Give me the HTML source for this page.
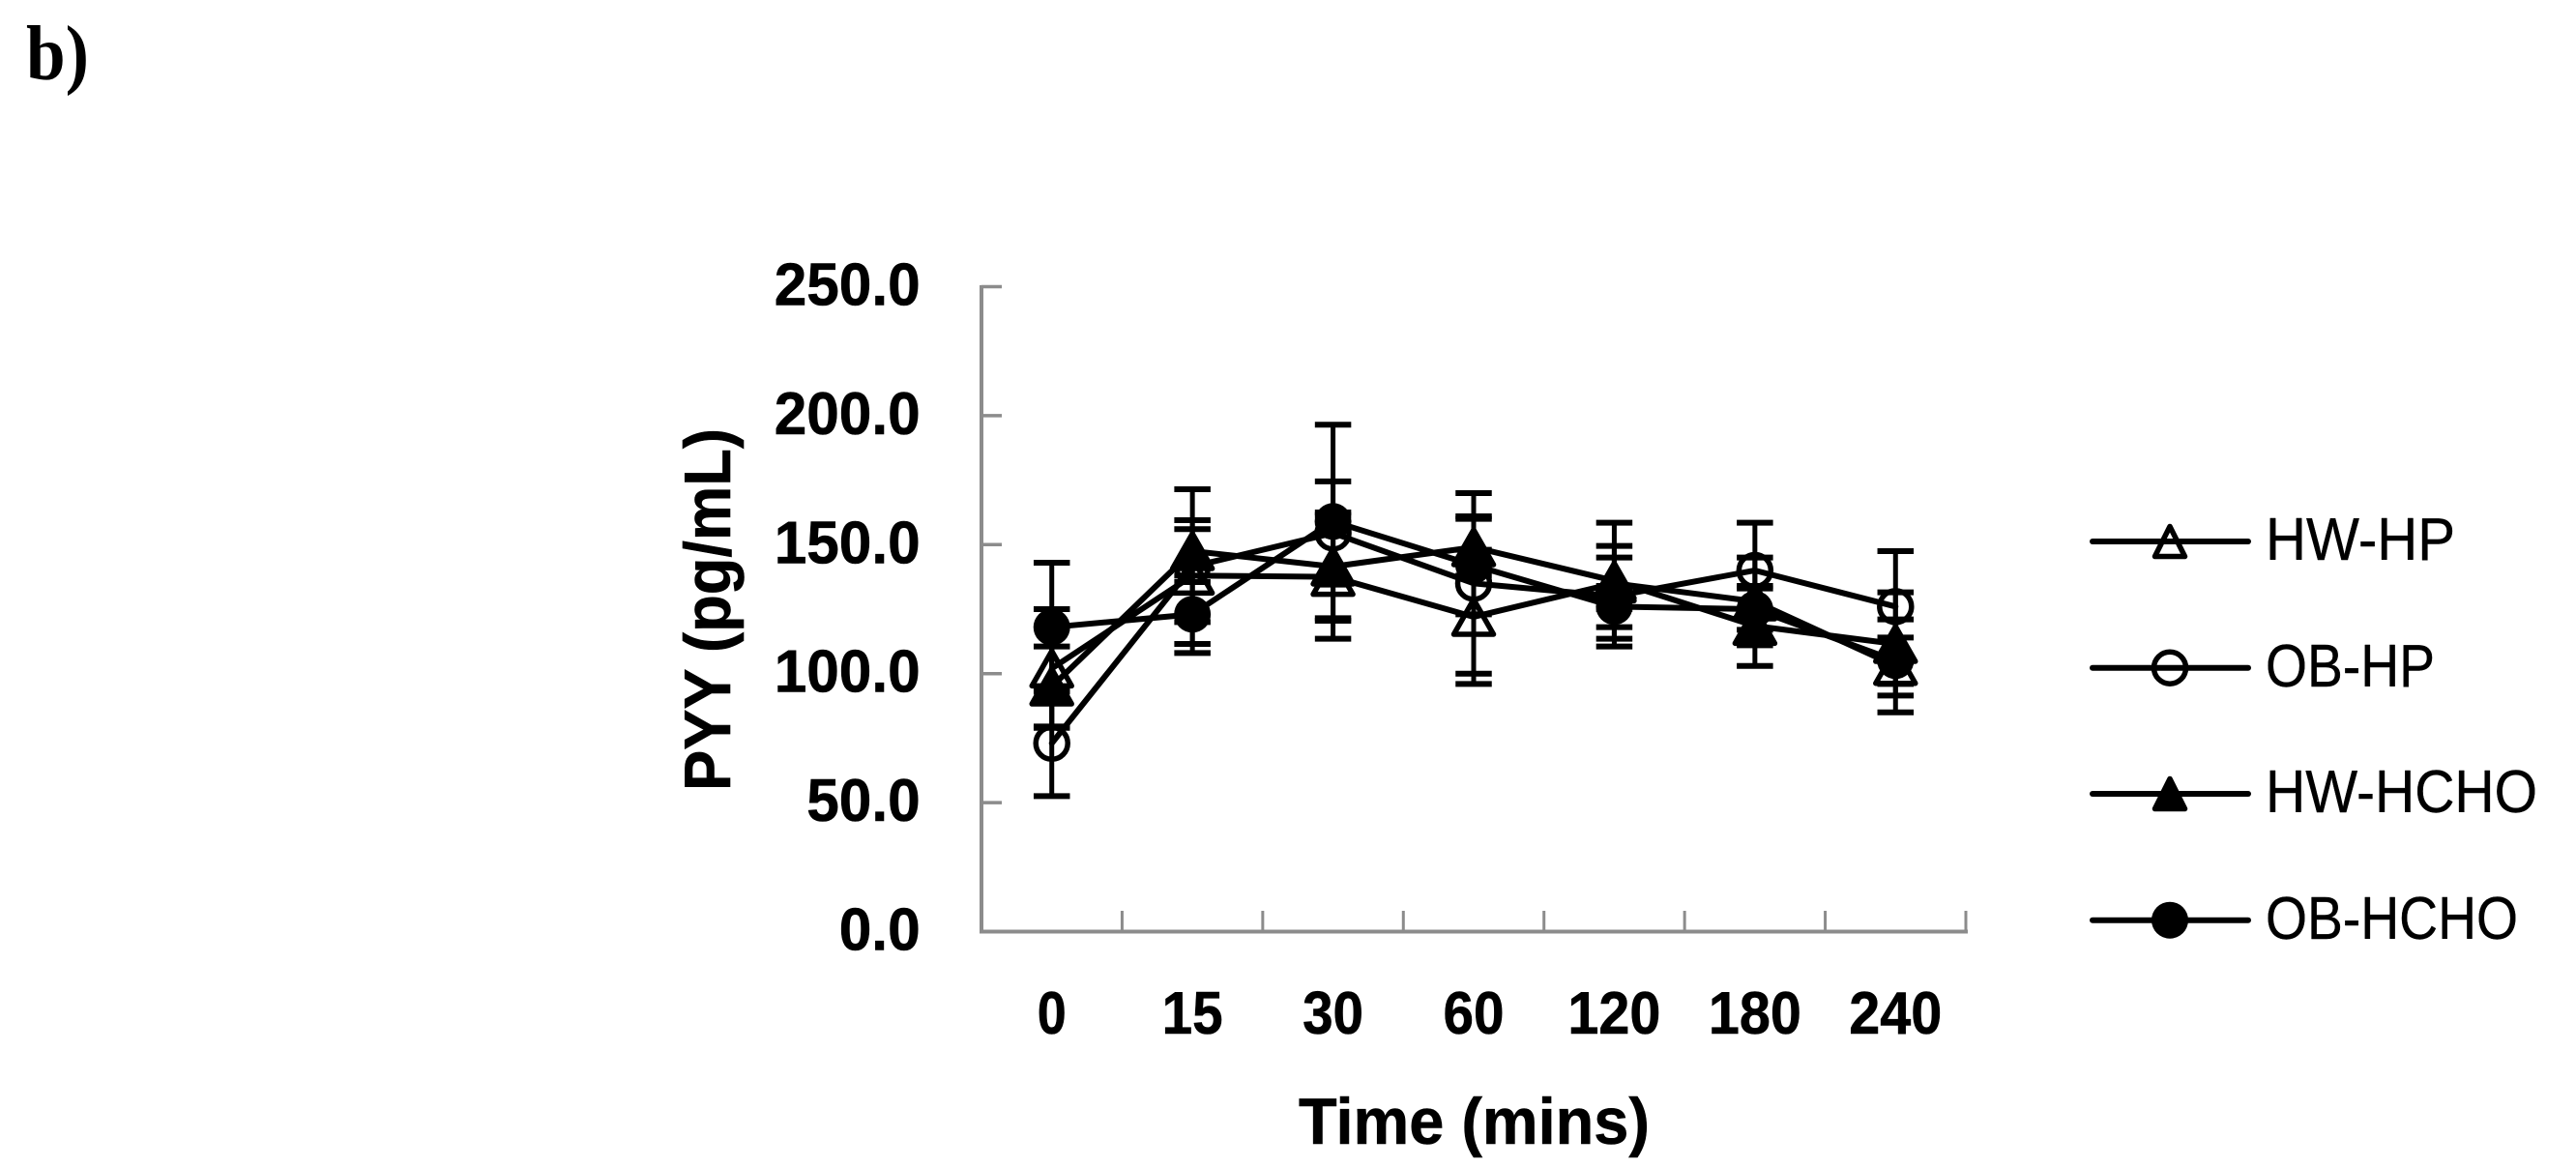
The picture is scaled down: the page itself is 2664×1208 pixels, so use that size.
<!DOCTYPE html>
<html lang="en">
<head>
<meta charset="utf-8">
<title>PYY over time</title>
<style>
html,body{margin:0;padding:0;background:#fff;}
#stage{display:block;width:2664px;height:1208px;background:#fff;}
text{fill:#000;}
.tick{font-family:"Liberation Sans",sans-serif;font-weight:bold;font-size:62px;stroke:#000;stroke-width:0.6px;}
.title{font-family:"Liberation Sans",sans-serif;font-weight:bold;font-size:68px;stroke:#000;stroke-width:0.6px;}
.leg{font-family:"Liberation Sans",sans-serif;font-size:62px;stroke:#000;stroke-width:0.4px;}
</style>
</head>
<body>
<svg id="stage" xmlns="http://www.w3.org/2000/svg" width="2664" height="1208" viewBox="0 0 2664 1208">
  <text x="27" y="82" textLength="65" lengthAdjust="spacingAndGlyphs" style="font-family:'Liberation Serif',serif;font-weight:bold;font-size:80px">b)</text>

  <g id="axes"></g>
  <g id="series"></g>

  <text class="title" transform="translate(755,818) rotate(-90)" x="0" y="0" textLength="375" lengthAdjust="spacingAndGlyphs">PYY (pg/mL)</text>
  <text class="title" x="1343" y="1183" textLength="363" lengthAdjust="spacingAndGlyphs">Time (mins)</text>

  <g stroke-linecap="round" stroke-linejoin="round">
    <g>
      <line x1="2164" y1="560" x2="2325" y2="560" stroke="#000" stroke-width="6"/>
      <path d="M2244 544.5L2259.5 575.5H2228.5Z" fill="none" stroke="#000" stroke-width="5.5"/>
      <text class="leg" x="2343" y="579" textLength="196" lengthAdjust="spacingAndGlyphs">HW-HP</text>
    </g>
    <g>
      <line x1="2164" y1="690.7" x2="2325" y2="690.7" stroke="#000" stroke-width="6"/>
      <circle cx="2244" cy="690.7" r="16.5" fill="none" stroke="#000" stroke-width="5.5"/>
      <text class="leg" x="2343" y="710" textLength="175" lengthAdjust="spacingAndGlyphs">OB-HP</text>
    </g>
    <g>
      <line x1="2164" y1="821" x2="2325" y2="821" stroke="#000" stroke-width="6"/>
      <path d="M2244 805.5L2259.5 836.5H2228.5Z" fill="#000" stroke="#000" stroke-width="5.5"/>
      <text class="leg" x="2343" y="840" textLength="281" lengthAdjust="spacingAndGlyphs">HW-HCHO</text>
    </g>
    <g>
      <line x1="2164" y1="951.7" x2="2325" y2="951.7" stroke="#000" stroke-width="6"/>
      <circle cx="2244" cy="951.7" r="19" fill="#000"/>
      <text class="leg" x="2343" y="971" textLength="261" lengthAdjust="spacingAndGlyphs">OB-HCHO</text>
    </g>
  </g>
</svg>

<script>
var categories = ["0", "15", "30", "60", "120", "180", "240"];
var yTickValues = [0, 50, 100, 150, 200, 250];

var hwHpValues   = [102, 138, 137.5, 122, 135, 128, 103];
var hwHpErrors   = [23, 18, 24, 26, 10, 17, 18];
var obHpValues   = [73, 141.5, 154.5, 135, 130, 140, 126];
var obHpErrors   = [20.5, 30, 20, 35, 19.5, 18.5, 21.5];
var hwHchoValues = [95, 147.5, 141.5, 149, 136, 118.5, 111.5];
var hwHchoErrors = [15.5, 12, 21, 11, 22.5, 15.5, 20];
var obHchoValues = [118, 123, 159, 142, 126, 125, 105];
var obHchoErrors = [25, 15, 37.5, 19, 8, 8, 9];

var NS = "http://www.w3.org/2000/svg";
var plotLeft = 1015, plotRight = 2033, plotBottom = 963.5, plotTop = 296.5, yMax = 250;
var axisColor = "#8c8c8c";

function xScale(i) {
  return plotLeft + (i + 0.5) * (plotRight - plotLeft) / categories.length;
}
function yScale(v) {
  return plotBottom - (v / yMax) * (plotBottom - plotTop);
}
function make(tag, attrs, parent) {
  var el = document.createElementNS(NS, tag);
  for (var k in attrs) { el.setAttribute(k, attrs[k]); }
  parent.appendChild(el);
  return el;
}

var axes = document.getElementById("axes");
var seriesLayer = document.getElementById("series");

var yAxisLine = make("line", {x1: plotLeft, y1: plotTop - 1.5, x2: plotLeft, y2: plotBottom + 2, stroke: axisColor, "stroke-width": 4}, axes);



var xAxisLine = make("line", {x1: plotLeft - 2, y1: plotBottom, x2: plotRight + 2, y2: plotBottom, stroke: axisColor, "stroke-width": 4}, axes);



yTickValues.forEach(function (v) {
  var y = yScale(v);
  var tick = make("line", {x1: plotLeft, y1: y, x2: plotLeft + 21, y2: y, stroke: axisColor, "stroke-width": 3.5}, axes);
  
  
  var str = v.toFixed(1);
  var label = make("text", {"class": "tick", x: 951.7, y: y + 19, "text-anchor": "end", textLength: (str.length - 1) * 33.5 + 17, lengthAdjust: "spacingAndGlyphs"}, axes);
  label.textContent = str;
  
  
});

for (var t = 1; t <= categories.length; t++) {
  var tx = plotLeft + t * (plotRight - plotLeft) / categories.length;
  var xTick = make("line", {x1: tx, y1: plotBottom - 21.5, x2: tx, y2: plotBottom, stroke: axisColor, "stroke-width": 3}, axes);
  
  
}

categories.forEach(function (c, i) {
  var label = make("text", {"class": "tick", x: xScale(i), y: 1069, "text-anchor": "middle", textLength: c.length * 33 - 3, lengthAdjust: "spacingAndGlyphs"}, axes);
  label.textContent = c;
  
  
});

function drawSeries(name, values, errors, shape, filled) {
  var group = make("g", {}, seriesLayer);
  
  

  values.forEach(function (v, i) {
    var x = xScale(i);
    var stem = make("line", {x1: x, y1: yScale(v + errors[i]), x2: x, y2: yScale(v - errors[i]), stroke: "#000", "stroke-width": 5}, group);
    
    
    var caps = make("path", {
      d: "M" + (x - 18.75) + " " + yScale(v + errors[i]) + "h37.5" +
         "M" + (x - 18.75) + " " + yScale(v - errors[i]) + "h37.5",
      fill: "none", stroke: "#000", "stroke-width": 6
    }, group);
    
    
  });

  var pts = values.map(function (v, i) { return xScale(i) + "," + yScale(v); }).join(" ");
  var line = make("polyline", {points: pts, fill: "none", stroke: "#000", "stroke-width": 6, "stroke-linejoin": "round", "stroke-linecap": "round"}, group);
  
  

  values.forEach(function (v, i) {
    var x = xScale(i), y = yScale(v), m;
    if (shape === "circle") {
      m = make("circle", filled
        ? {cx: x, cy: y, r: 19, fill: "#000"}
        : {cx: x, cy: y, r: 16.5, fill: "none", stroke: "#000", "stroke-width": 5.5}, group);
    } else {
      m = make("path", {
        d: "M" + x + " " + (y - 18) + "L" + (x + 20.5) + " " + (y + 18) + "H" + (x - 20.5) + "Z",
        fill: filled ? "#000" : "none", stroke: "#000", "stroke-width": 5.5, "stroke-linejoin": "round"
      }, group);
    }
    
    
  });
}

drawSeries("hw-hp", hwHpValues, hwHpErrors, "triangle", false);
drawSeries("ob-hp", obHpValues, obHpErrors, "circle", false);
drawSeries("hw-hcho", hwHchoValues, hwHchoErrors, "triangle", true);
drawSeries("ob-hcho", obHchoValues, obHchoErrors, "circle", true);
</script>
</body>
</html>
